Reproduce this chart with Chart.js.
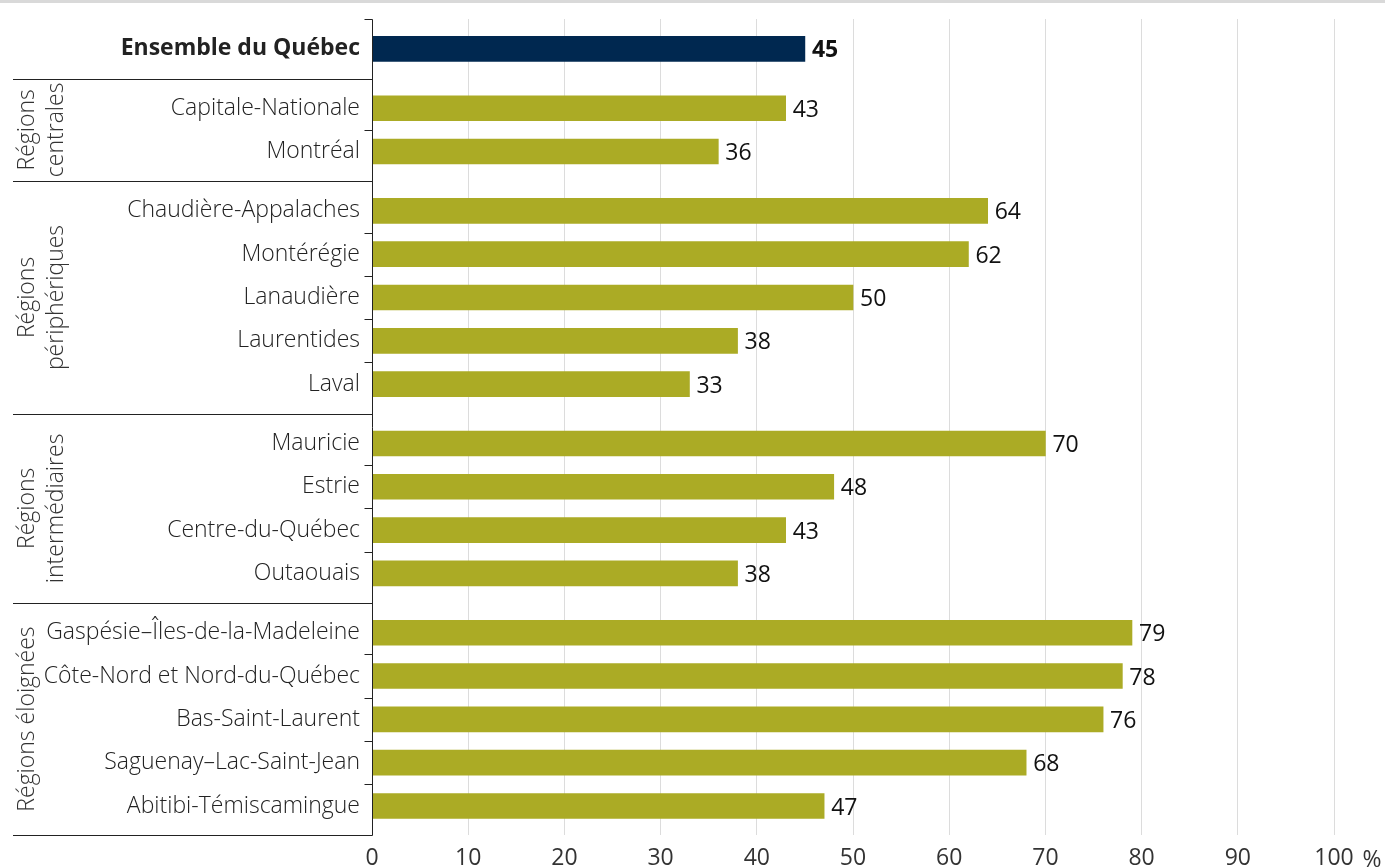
<!DOCTYPE html>
<html>
<head>
<meta charset="utf-8">
<script src="https://cdn.jsdelivr.net/npm/chart.js@4.4.1/dist/chart.umd.min.js"></script>
<style>
  html, body { margin: 0; padding: 0; background: #ffffff; }
  #wrap { position: relative; width: 1385px; height: 867px; }
</style>
</head>
<body>
<div id="wrap"><canvas id="c" width="1385" height="867"></canvas></div>
<script>
// ---- Data ----
const categories = [
  'Ensemble du Québec',
  'Capitale-Nationale', 'Montréal',
  'Chaudière-Appalaches', 'Montérégie', 'Lanaudière', 'Laurentides', 'Laval',
  'Mauricie', 'Estrie', 'Centre-du-Québec', 'Outaouais',
  'Gaspésie–Îles-de-la-Madeleine', 'Côte-Nord et Nord-du-Québec', 'Bas-Saint-Laurent', 'Saguenay–Lac-Saint-Jean', 'Abitibi-Témiscamingue'
];
const values = [45, 43, 36, 64, 62, 50, 38, 33, 70, 48, 43, 38, 79, 78, 76, 68, 47];
const groupOfCategory = [0, 1, 1, 2, 2, 2, 2, 2, 3, 3, 3, 3, 4, 4, 4, 4, 4];
const groupLabels = [null, ['Régions', 'centrales'], ['Régions', 'périphériques'], ['Régions', 'intermédiaires'], ['Régions éloignées']];
const xTicks = [0, 10, 20, 30, 40, 50, 60, 70, 80, 90, 100];

// ---- Layout helpers ----
const GAP = 0.37;
const positions = categories.map((c, i) => i + groupOfCategory[i] * GAP);
const FONT = "'Open Sans', 'Noto Sans', sans-serif";
const FS = 23;
const OLIVE = '#abab25';
const NAVY = '#002850';

const decorPlugin = {
  id: 'decor',
  beforeDraw(chart) {
    const ctx = chart.ctx;
    ctx.save();
    ctx.fillStyle = '#ffffff';
    ctx.fillRect(0, 0, chart.width, chart.height);
    ctx.fillStyle = '#d9d9d9';
    ctx.fillRect(0, 0, chart.width, 3);
    ctx.restore();
  },
  afterDraw(chart) {
    const ctx = chart.ctx;
    const ys = chart.scales.y;
    const xs = chart.scales.x;
    const area = chart.chartArea;
    const axisX = Math.round(area.left) + 0.5;
    ctx.save();
    ctx.strokeStyle = '#222222';
    ctx.lineWidth = 1;
    ctx.beginPath();
    ctx.moveTo(axisX, Math.round(area.top) + 0.5);
    ctx.lineTo(axisX, Math.round(area.bottom) + 0.5);
    ctx.moveTo(axisX - 8, Math.round(area.top) + 0.5);
    ctx.lineTo(axisX, Math.round(area.top) + 0.5);
    ctx.stroke();
    for (let i = 0; i < positions.length - 1; i++) {
      const mid = (positions[i] + positions[i + 1]) / 2;
      const y = Math.round(ys.getPixelForValue(mid)) + 0.5;
      ctx.beginPath();
      ctx.moveTo(groupOfCategory[i] !== groupOfCategory[i + 1] ? 13 : axisX - 8, y);
      ctx.lineTo(axisX, y);
      ctx.stroke();
    }
    const yb = Math.round(area.bottom) + 0.5;
    ctx.beginPath();
    ctx.moveTo(13, yb);
    ctx.lineTo(axisX, yb);
    ctx.stroke();

    // group labels
    ctx.fillStyle = '#333333';
    ctx.font = '300 ' + FS + 'px ' + FONT;
    ctx.textAlign = 'center';
    ctx.textBaseline = 'alphabetic';
    for (let g = 1; g < groupLabels.length; g++) {
      const idx = groupOfCategory.map((v, i) => v === g ? i : -1).filter(i => i >= 0);
      const first = idx[0], last = idx[idx.length - 1];
      const topV = (positions[first - 1] + positions[first]) / 2;
      const botV = last + 1 < positions.length ? (positions[last] + positions[last + 1]) / 2 : ys.max;
      const yc = (ys.getPixelForValue(topV) + ys.getPixelForValue(botV)) / 2;
      groupLabels[g].forEach((t, k) => {
        ctx.save();
        ctx.translate(34 + k * 29, yc);
        ctx.rotate(-Math.PI / 2);
        ctx.fillText(t, 0, 0);
        ctx.restore();
      });
    }

    // value labels
    const meta = chart.getDatasetMeta(0);
    ctx.textAlign = 'left';
    ctx.textBaseline = 'middle';
    ctx.fillStyle = '#111111';
    meta.data.forEach((el, i) => {
      ctx.font = (i === 0 ? '700 ' : '400 ') + FS + 'px ' + FONT;
      ctx.fillText(String(Math.round(values[i])), el.x + 7, el.y + 2);
    });

    // percent sign
    ctx.fillStyle = '#333333';
    ctx.font = '400 ' + FS + 'px ' + FONT;
    ctx.textAlign = 'center';
    ctx.fillText('%', xs.getPixelForValue(100) + 38, xs.top + 25);
    ctx.restore();
  }
};

new Chart(document.getElementById('c'), {
  type: 'bar',
  data: {
    datasets: [{
      data: values.map((v, i) => ({ x: v, y: positions[i] })),
      backgroundColor: values.map((v, i) => i === 0 ? NAVY : OLIVE),
      barThickness: 25,
      borderWidth: 0
    }]
  },
  options: {
    indexAxis: 'y',
    responsive: false,
    animation: false,
    events: [],
    layout: { padding: { top: 19, right: 51, left: 0, bottom: 0 } },
    plugins: { legend: { display: false }, tooltip: { enabled: false } },
    scales: {
      x: {
        type: 'linear',
        position: 'bottom',
        min: 0, max: 100,
        afterBuildTicks(scale) { scale.ticks = xTicks.map(v => ({ value: v })); },
        afterFit(scale) { scale.height = 32; scale.paddingLeft = 0; scale.paddingRight = 0; },
        grid: { color: '#dcdcdc', lineWidth: 1, drawTicks: false },
        border: { display: false },
        ticks: {
          padding: 10,
          color: '#333333',
          font: { family: FONT, size: FS, weight: '400' },
          maxRotation: 0
        }
      },
      y: {
        type: 'linear',
        reverse: true,
        offset: false,
        min: -0.69,
        max: positions[positions.length - 1] + 0.67,
        afterBuildTicks(scale) { scale.ticks = positions.map(v => ({ value: v })); },
        afterFit(scale) { scale.width = 372; scale.paddingTop = 0; scale.paddingBottom = 0; },
        grid: { display: false, drawTicks: false, offset: false },
        border: { display: false },
        ticks: {
          autoSkip: false,
          padding: 12,
          color: '#222222',
          callback: (value, index) => categories[index],
          font: (ctx) => ({ family: FONT, size: FS, weight: ctx.index === 0 ? '700' : '300' })
        }
      }
    }
  },
  plugins: [decorPlugin]
});
</script>
</body>
</html>
